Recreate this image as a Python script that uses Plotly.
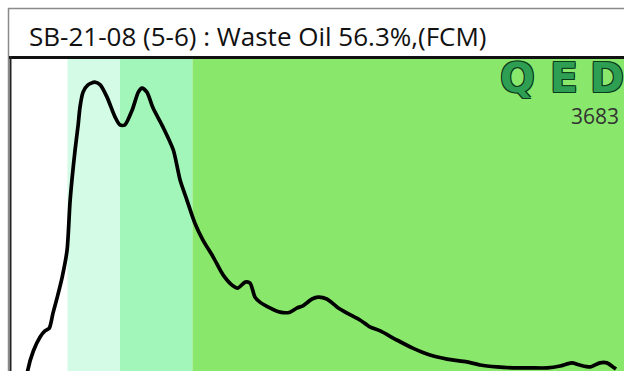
import plotly.graph_objects as go

# Chromatogram trace: retention time (min) vs detector response (%)
time_min = [0.28, 0.29, 0.38, 0.49, 0.57, 0.64, 0.70, 0.77, 0.85, 0.93,
            0.98, 1.06, 1.11, 1.14, 1.19, 1.27, 1.38, 1.47, 1.58, 1.71,
            1.79, 1.87, 1.99, 2.09, 2.15, 2.23, 2.33, 2.49, 2.66, 2.77,
            2.88, 3.01, 3.14, 3.31, 3.47, 3.63, 3.71, 3.83, 3.91, 3.99,
            4.07, 4.24, 4.40, 4.56, 4.67, 4.77, 4.92, 5.02, 5.16, 5.33,
            5.49, 5.70, 5.86, 6.03, 6.30, 6.56, 6.84, 7.12, 7.44, 7.66,
            7.93, 8.19, 8.47, 8.75, 8.96, 9.15, 9.28, 9.45, 9.61, 9.72,
            9.82, 9.87]
response = [-1.3, 0.3, 6.4, 10.9, 12.8, 13.7, 18.5, 23.6, 30.0, 38.7,
            54.7, 70.6, 78.6, 84.3, 89.1, 91.4, 92.3, 91.4, 87.5, 81.2,
            78.6, 78.6, 83.4, 89.1, 90.4, 89.1, 84.0, 78.0, 70.6, 61.0,
            54.7, 47.3, 41.9, 36.4, 30.7, 27.2, 26.5, 28.4, 28.1, 23.6,
            22.0, 20.1, 18.8, 18.8, 20.1, 20.8, 23.0, 23.6, 23.0, 20.4,
            18.5, 16.3, 14.1, 12.8, 9.9, 7.3, 5.1, 3.8, 2.9, 1.9,
            1.3, 1.0, 1.0, 1.0, 1.6, 2.6, 1.9, 1.3, 2.6, 2.6,
            1.3, 0.6]

# Hydrocarbon range windows (min) and their fills
band_start = [0.936, 1.792, 2.972]
band_end = [1.792, 2.972, 10.5]
band_color = ["#d3fbe6", "#a3f6ba", "#89e86c"]

title_text = "SB-21-08 (5-6) : Waste Oil 56.3%,(FCM)"
logo_letters = ["Q", "E", "D"]
logo_left = [498, 548, 588]
serial_text = "3683"

W, H = 624, 371
L, T = 10, 58
PW, PH = W - L, H - T


def px(x):
    return (x - L) / PW


def py(y):
    return (H - y) / PH


fig = go.Figure()

fig.add_trace(go.Scatter(
    x=time_min, y=response, mode="lines",
    line=dict(color="#000000", width=3.7, shape="spline", smoothing=0.7),
    hoverinfo="skip", showlegend=False,
))

shapes = []
for x0, x1, c in zip(band_start, band_end, band_color):
    shapes.append(dict(type="rect", xref="x", yref="paper", x0=x0, x1=x1,
                       y0=0, y1=1, fillcolor=c, line=dict(width=0),
                       layer="below"))

# outer chart frame (runs off the right and bottom edges)
shapes.append(dict(type="path", xref="paper", yref="paper",
                   path="M %.5f %.5f L %.5f %.5f L %.5f %.5f" % (
                       1.2, py(8.5), px(8.5), py(8.5), px(8.5), -0.2),
                   line=dict(color="#8a8a8a", width=1.5)))
# plot area border (top and left)
shapes.append(dict(type="path", xref="paper", yref="paper",
                   path="M %.5f %.5f L %.5f %.5f" % (
                       px(9), py(57.5), 1.2, py(57.5)),
                   line=dict(color="#111111", width=3)))
shapes.append(dict(type="path", xref="paper", yref="paper",
                   path="M %.5f %.5f L %.5f %.5f" % (
                       px(10.5), py(56), px(10.5), -0.2),
                   line=dict(color="#222222", width=2)))

logo_font = dict(family="DejaVu Sans", size=41, color="#2e9e52",
                 weight="bold",
                 shadow="1px 1px 0 #0c3a1c, -1px -1px 0 #0c3a1c, "
                        "1px -1px 0 #0c3a1c, -1px 1px 0 #0c3a1c")

annotations = [
    dict(text=title_text, xref="paper", yref="paper", x=px(27), y=py(36),
         xanchor="left", yanchor="middle", showarrow=False,
         font=dict(family="Open Sans", size=26, color="#111111")),
    dict(text=serial_text, xref="paper", yref="paper", x=px(569), y=py(116),
         xanchor="left", yanchor="middle", showarrow=False,
         font=dict(family="Open Sans", size=21, color="#333333")),
]
for letter, left in zip(logo_letters, logo_left):
    annotations.append(dict(text=letter, xref="paper", yref="paper",
                            x=px(left), y=py(78), xanchor="left",
                            yanchor="middle", showarrow=False,
                            font=logo_font))

fig.update_layout(
    width=W, height=H,
    margin=dict(l=L, r=0, t=T, b=0, pad=0),
    paper_bgcolor="#ffffff", plot_bgcolor="#ffffff",
    xaxis=dict(range=[0, 10], showgrid=False, zeroline=False,
               showticklabels=False, ticks="", showline=False, fixedrange=True),
    yaxis=dict(range=[0, 100], showgrid=False, zeroline=False,
               showticklabels=False, ticks="", showline=False, fixedrange=True),
    shapes=shapes, annotations=annotations, showlegend=False,
)

fig.write_html("out.html", config={"displayModeBar": False})
